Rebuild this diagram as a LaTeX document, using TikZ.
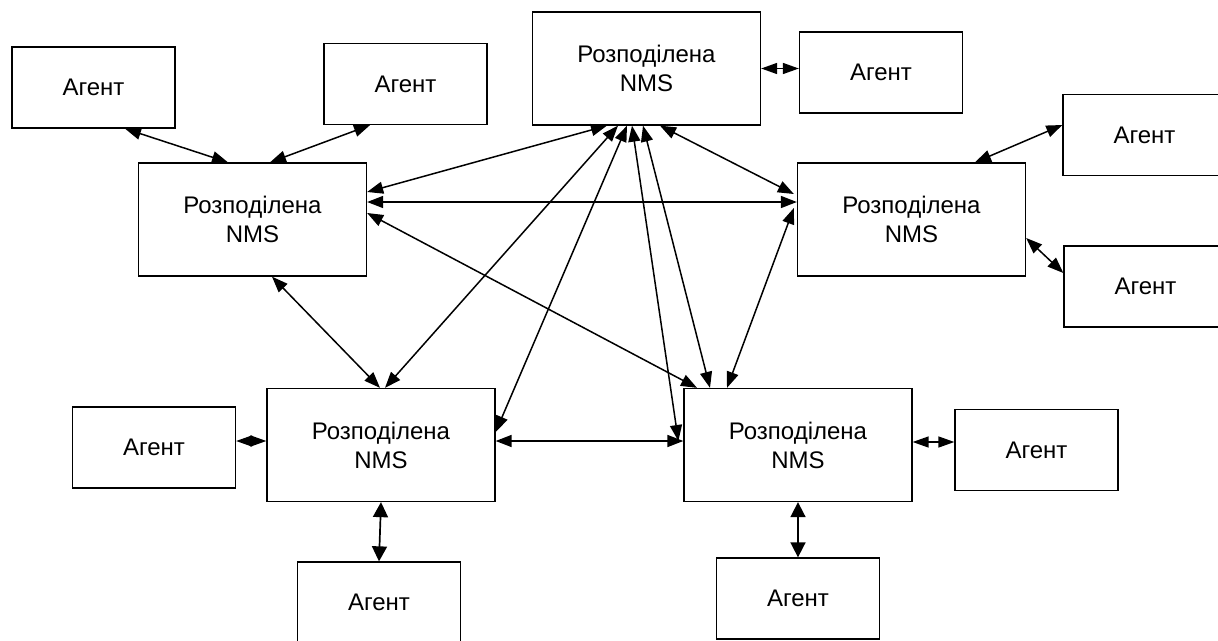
\documentclass[tikz,border=0pt]{standalone}
\usepackage{fontspec}
\setmainfont{Liberation Sans}
\usetikzlibrary{arrows.meta,calc}
\tikzset{
  box/.style={draw, line width=1.3pt, rectangle, inner sep=0pt, align=center,
    font=\fontsize{24}{29}\selectfont},
  agent/.style={box, minimum width=163pt, minimum height=81pt},
  nms/.style={box, minimum width=228pt, minimum height=113pt},
  tip/.style={Triangle[length=16pt,width=12pt]},
  link/.style={line width=1.5pt, {Triangle[length=16pt,width=12pt]}-{Triangle[length=16pt,width=12pt]}},
  shortlink/.style={line width=1.5pt, {Triangle[length=16pt,width=11pt]}-{Triangle[length=16pt,width=11pt]}},
  vlink/.style={line width=1.7pt, {Triangle[length=15pt,width=15pt]}-{Triangle[length=15pt,width=15pt]}}
}
\begin{document}
\begin{tikzpicture}[x=1pt,y=-1pt]
\useasboundingbox (0,0) rectangle (1218,640);

% management stations
\node[nms] (nT)  at (646.5,68.5) {Розподілена\\NMS};
\node[nms] (nL)  at (252.5,219.5) {Розподілена\\NMS};
\node[nms] (nR)  at (911.5,219.5) {Розподілена\\NMS};
\node[nms] (nBL) at (381,445) {Розподілена\\NMS};
\node[nms] (nBR) at (798,445) {Розподілена\\NMS};

% agents
\node[agent] (aTL) at (93.5,87.5) {Агент};
\node[agent] (aT2) at (405.5,84) {Агент};
\node[agent] (aTR) at (881,72.5) {Агент};
\node[agent] (aR1) at (1144.5,135) {Агент};
\node[agent] (aR2) at (1145.5,286.5) {Агент};
\node[agent] (aLB) at (154,447.5) {Агент};
\node[agent] (aBL) at (379,602.5) {Агент};
\node[agent] (aBR) at (798,598.5) {Агент};
\node[agent] (aR3) at (1036.5,450) {Агент};

% links between stations
\draw[link] ($(nT.south)+(-39.5,0)$) -- ($(nL.east)+(0,-27.5)$);
\draw[link] ($(nL.east)+(0,-17.5)$) -- ($(nR.west)+(0,-17.5)$);
\draw[link] ($(nL.east)+(0,-6.5)$) -- ($(nBR.north)+(-101,0)$);
\draw[link] ($(nL.south)+(19.5,0)$) -- ($(nBL.north)+(-1,0)$);
\draw[link] ($(nT.south)+(-28.5,0)$) -- ($(nBL.north)+(4,0)$);
\draw[link] ($(nT.south)+(-19.5,0)$) -- ($(nBL.east)+(0,-13)$);
\draw[link] ($(nT.south)+(-14.5,0)$) -- ($(nBR.west)+(-5,-4)$);
\draw[link] ($(nT.south)+(-3.5,0)$) -- ($(nBR.north)+(-88,0)$);
\draw[link] ($(nT.south)+(13.5,0)$) -- ($(nR.west)+(-3,-25.5)$);
\draw[link] ($(nR.west)+(-3,-11.5)$) -- ($(nBR.north)+(-71,0)$);
\draw[link] ($(nBL.east)+(0,-4)$) -- ($(nBR.west)+(0,-4)$);

% links to agents
\draw[link] ($(aTL.south)+(31.5,0)$) -- ($(nL.north)+(-24.5,0)$);
\draw[link] ($(aT2.south)+(-35.5,0)$) -- ($(nL.north)+(17.5,0)$);
\draw[link] ($(nR.north)+(63.5,0)$) -- ($(aR1.west)+(0,-10)$);
\draw[link] ($(nR.east)+(0,18.5)$) -- ($(aR2.west)+(0,-13.5)$);
\draw[shortlink] (nT.east) -- (nT.east -| aTR.west);
\draw[shortlink] ($(aLB.east)+(0,-6.5)$) -- ($(nBL.west)+(0,-4)$);
\draw[shortlink] ($(nBR.east)+(0,-3)$) -- ($(aR3.west)+(0,-8)$);
\draw[vlink] (nBL.south) -- (aBL.north);
\draw[vlink] (nBR.south) -- (aBR.north);
\end{tikzpicture}
\end{document}
